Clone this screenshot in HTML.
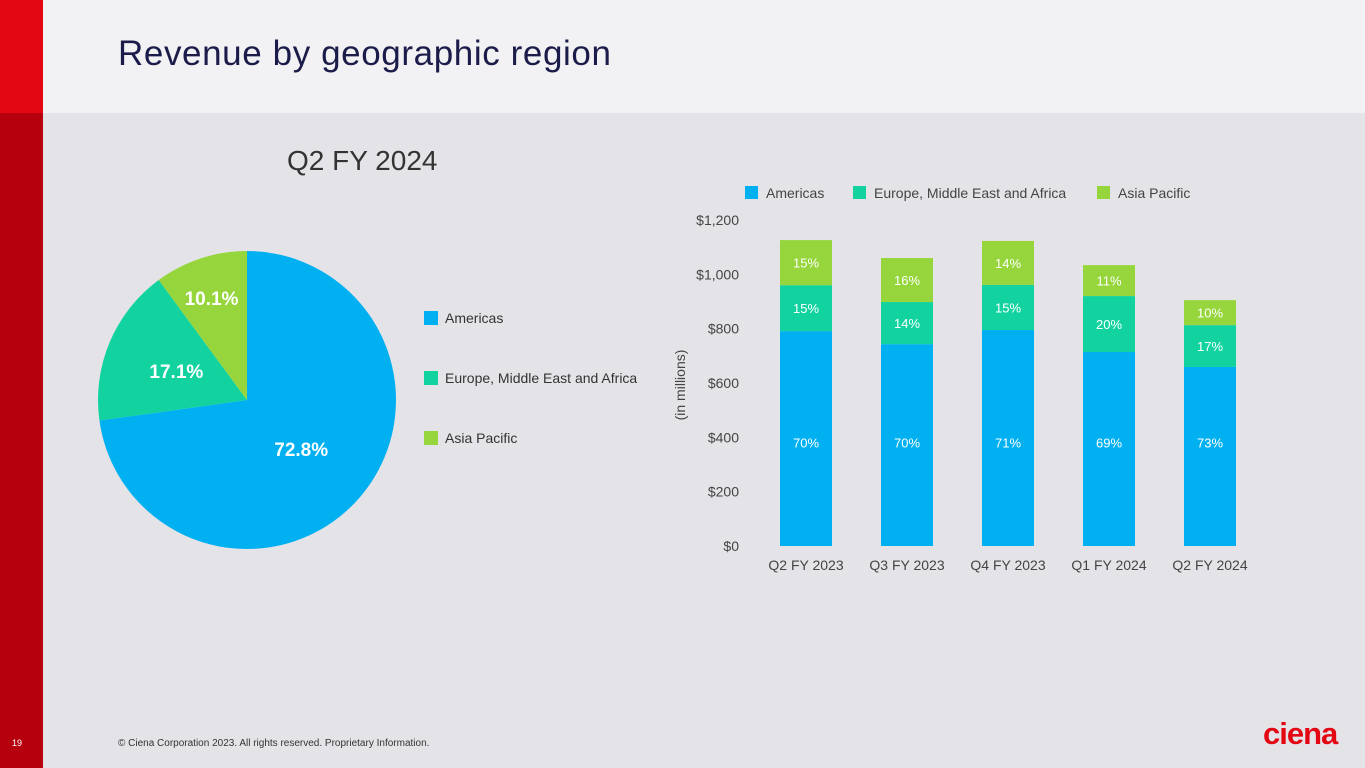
<!DOCTYPE html>
<html><head><meta charset="utf-8"><style>
body{margin:0;width:1365px;height:768px;overflow:hidden;background:#e4e3e7;font-family:"Liberation Sans",sans-serif;position:relative}
.abs{position:absolute}
</style></head><body>
<div class="abs" style="left:0;top:0;width:43px;height:113px;background:#e30613"></div>
<div class="abs" style="left:0;top:113px;width:43px;height:655px;background:#b7000d"></div>
<div class="abs" style="left:43px;top:0;width:1322px;height:113px;background:#f2f2f4"></div>
<div class="abs" style="left:118px;top:34px;font-size:35px;color:#1c1c4a;letter-spacing:0.6px">Revenue by geographic region</div>
<div class="abs" style="left:287px;top:145px;font-size:28px;color:#333">Q2 FY 2024</div>
<div class="abs" style="left:12px;top:738px;font-size:9px;color:#fff">19</div>
<div class="abs" style="left:118px;top:738px;font-size:10px;color:#333">© Ciena Corporation 2023. All rights reserved. Proprietary Information.</div>
<div class="abs" style="left:1263px;top:716px;font-size:31px;font-weight:bold;color:#e30613;letter-spacing:-1px">ciena</div>
<svg class="abs" style="left:0;top:0" width="1365" height="768" id="chart"></svg>
<script>
const pieLabels=["Americas","Europe, Middle East and Africa","Asia Pacific"];
const pieValues=[72.8,17.1,10.1];
const categories=["Q2 FY 2023","Q3 FY 2023","Q4 FY 2023","Q1 FY 2024","Q2 FY 2024"];
const americas=[791,743,795,714,659];
const emea=[169,155,166,206,154];
const apac=[166,162,162,114,92];
const pctAmericas=["70%","70%","71%","69%","73%"];
const pctEmea=["15%","14%","15%","20%","17%"];
const pctApac=["15%","16%","14%","11%","10%"];
const yTicks=[0,200,400,600,800,1000,1200];
const colors=["#00b0f0","#12d3a0","#96d63c"];
const NS="http://www.w3.org/2000/svg";
const svg=document.getElementById('chart');
function mk(t,a,p){const e=document.createElementNS(NS,t);for(const k in a)e.setAttribute(k,a[k]);(p||svg).appendChild(e);return e;}
const cx=247,cy=400,r=149;let ang=0;
const labelR=[0.5,0.5,0.72];
pieValues.forEach((v,i)=>{const a0=ang,a1=ang+v/100*2*Math.PI;ang=a1;
 const x0=cx+r*Math.sin(a0),y0=cy-r*Math.cos(a0),x1=cx+r*Math.sin(a1),y1=cy-r*Math.cos(a1);
 const p=mk('path',{d:`M${cx},${cy}L${x0},${y0}A${r},${r} 0 ${a1-a0>Math.PI?1:0} 1 ${x1},${y1}Z`,fill:colors[i]});
 
 
 const mid=(a0+a1)/2,lr=r*labelR[i];
 const t=mk('text',{x:cx+lr*Math.sin(mid)-2,y:cy-lr*Math.cos(mid)+7,'text-anchor':'middle','font-size':19,'font-weight':'bold',fill:'#fff'});
 t.textContent=v.toFixed(1)+'%';
 
 
 const s=mk('rect',{x:424,y:311+i*60,width:14,height:14,fill:colors[i]});
 
 
 const lt=mk('text',{x:445,y:323+i*60,'font-size':14,fill:'#333'});lt.textContent=pieLabels[i];
 
 
});
const y0=546,yMax=1200,yTop=220;const Y=v=>y0-(v/yMax)*(y0-yTop);
const X=i=>806+i*101;const bw=52;
yTicks.forEach(v=>{const t=mk('text',{x:739,y:Y(v)+5,'text-anchor':'end','font-size':14,fill:'#444'});t.textContent='$'+v.toLocaleString('en-US');
 
 });
const at=mk('text',{transform:'translate(685,385) rotate(-90)','text-anchor':'middle','font-size':14,fill:'#444'});at.textContent='(in millions)';


categories.forEach((c,i)=>{
 const segs=[americas[i],emea[i],apac[i]],pcts=[pctAmericas[i],pctEmea[i],pctApac[i]];let base=0;
 segs.forEach((v,k)=>{const yt=Y(base+v),yb=Y(base);
  const b=mk('rect',{x:X(i)-bw/2,y:yt,width:bw,height:yb-yt,fill:colors[k]});
  
  
  const ly=k==0?Y(Math.min(v,400))+10:(yt+yb)/2+5;
  const t=mk('text',{x:X(i),y:ly,'text-anchor':'middle','font-size':13,fill:'#fff'});t.textContent=pcts[k];
  
  
  base+=v;});
 const t=mk('text',{x:X(i),y:570,'text-anchor':'middle','font-size':14,fill:'#444'});t.textContent=c;
 
 
});
const lx=[745,853,1097];
pieLabels.forEach((l,i)=>{const s=mk('rect',{x:lx[i],y:186,width:13,height:13,fill:colors[i]});
 
 
 const t=mk('text',{x:lx[i]+21,y:198,'font-size':14,fill:'#444'});t.textContent=l;
 
 });
</script>
</body></html>
